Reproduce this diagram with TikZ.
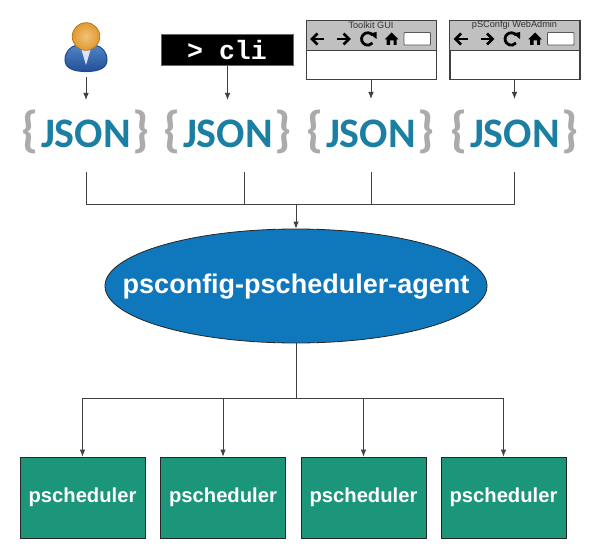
\documentclass[tikz,border=0pt]{standalone}
\usepackage{fontspec}
\setmainfont{Liberation Sans}
\newfontfamily\jsonfont{Carlito}
\newfontfamily\clifont{Liberation Mono}
\usetikzlibrary{arrows.meta,shapes.geometric}
\definecolor{jsonblue}{HTML}{1B7FA3}
\definecolor{bracegray}{HTML}{ABABAB}
\definecolor{agentblue}{HTML}{0F77BC}
\definecolor{schedgreen}{HTML}{1B967A}
\definecolor{toolbar}{HTML}{C0C0C0}
\definecolor{suitlight}{HTML}{4F86C6}
\definecolor{suitdark}{HTML}{234F96}
\definecolor{suitline}{HTML}{1F4A8C}
\definecolor{headlight}{HTML}{F0C27A}
\definecolor{headdark}{HTML}{E09A30}
\definecolor{headline}{HTML}{B57A20}
\tikzset{
  link/.style={draw=black!75,line width=0.8pt},
  flow/.style={link,-{Latex[length=7pt,width=5.5pt]}},
  sched/.style={draw=black!85,line width=0.8pt,fill=schedgreen,text=white,minimum width=125pt,minimum height=81pt,inner sep=0pt,font=\bfseries\fontsize{20.2}{24}\selectfont},
  jsonword/.style={inner sep=0pt,minimum width=88pt,minimum height=44pt,font=\jsonfont\bfseries\fontsize{42}{46}\selectfont,text=jsonblue},
  brace/.style={inner sep=0pt,font=\jsonfont\bfseries\fontsize{50}{50}\selectfont,text=bracegray},
  browser/.style={draw=black!75,line width=0.8pt,fill=white,minimum width=130pt,minimum height=59pt,inner sep=0pt},
  icon/.style={draw=black,line width=2.5pt},
}
\newcommand{\jsonitem}[2]{%
  \node[jsonword] (#1) at (#2,134) {JSON};
  \node[brace] (#1l) at (#2-55.5,132) {\{};
  \node[brace] (#1r) at (#2+55.5,132) {\}};
}
\newcommand{\browseritem}[3]{%
  \node[browser,anchor=north west] (#1) at (#2,20) {};
  \fill[toolbar] (#2+0.4,20.4) rectangle (#2+129.6,50);
  \draw[black!75,line width=0.8pt] (#2,20) rectangle (#2+130,79) (#2,50.5) -- (#2+130,50.5);
  \node[inner sep=0pt,font=\fontsize{9.2}{10}\selectfont,text=black!80] (#1t) at (#2+65,25) {#3};
  \begin{scope}[shift={(#2,0)}]
    % back
    \draw[icon] (6,39) -- (18,39);
    \draw[icon] (11.5,33.5) -- (6,39) -- (11.5,44.5);
    % forward
    \draw[icon] (31,39) -- (43,39);
    \draw[icon] (37.5,33.5) -- (43,39) -- (37.5,44.5);
    % reload
    \draw[icon,line width=2.8pt] (66.5,35) arc[start angle=-40,end angle=-320,radius=6.2];
    \fill (63.5,33.5) -- (70.5,32) -- (70.5,39) -- cycle;
    % home
    \fill (78.5,39.5) -- (85.7,32.5) -- (92.5,39.5) -- (90.5,39.5) -- (90.5,45) -- (87.5,45) -- (87.5,40.5) -- (84,40.5) -- (84,45) -- (80.5,45) -- (80.5,39.5) -- cycle;
    % address field
    \draw[draw=black!65,line width=0.8pt,fill=white,rounded corners=0.8pt] (98,32.5) rectangle (124.5,45);
  \end{scope}
}
\begin{document}
\begin{tikzpicture}[x=1pt,y=-1pt]
\useasboundingbox (0,0) rectangle (600,559);
\fill[white] (0,0) rectangle (600,559);

% user icon
\fill[black!10] (66,62) .. controls (66,76) and (106,76) .. (106,62) -- cycle;
\draw[draw=suitline,line width=1pt,top color=suitlight,bottom color=suitdark]
  (77,45) .. controls (70,46.5) and (65,52) .. (65,60) .. controls (65,68) and (73,71.5) .. (86,71.5)
  .. controls (99,71.5) and (107,68) .. (107,60) .. controls (107,52) and (102,46.5) .. (95,45) -- cycle;
\fill[white!88!blue] (81,48) -- (91,48) -- (87.5,60) -- (86,65) -- (84.5,60) -- cycle;
\shade[draw=headline,line width=0.8pt,inner color=headlight,outer color=headdark]
  (86,36.5) circle[radius=13.8];

% cli
\node[draw=black!60,line width=0.6pt,fill=black,text=white,minimum width=132pt,minimum height=30.5pt,inner sep=0pt,font=\clifont\bfseries\fontsize{26.5}{28}\selectfont] (cli) at (227,50) {> cli};

% browsers
\browseritem{gui}{306}{Toolkit GUI}
\browseritem{web}{449.5}{pSConfgi WebAdmin}

% JSON
\jsonitem{ja}{86}
\jsonitem{jb}{228}
\jsonitem{jc}{371}
\jsonitem{jd}{515}

\coordinate (ua) at (86,77);
\coordinate (ja1) at (86,100);
\coordinate (jb1) at (227.5,100);
\coordinate (jc1) at (371,99);
\coordinate (jd1) at (514.5,99);
\draw[flow] (ua) -- (ja1);
\draw[flow] (cli.south -| jb1) -- (jb1);
\draw[flow] (gui.south -| jc1) -- (jc1);
\draw[flow] (web.south -| jd1) -- (jd1);

% merge
\coordinate (ma) at (86,172);
\coordinate (mb) at (244.5,172);
\coordinate (mc) at (371.5,172);
\coordinate (md) at (514.5,172);
\coordinate (bar) at (296,204);
\node[ellipse,draw=black!85,line width=0.8pt,fill=agentblue,minimum width=382pt,minimum height=114pt,inner sep=0pt] (agent) at (296,286) {};
\node[inner sep=0pt,text=white,font=\bfseries\fontsize{27}{30}\selectfont] (agentname) at (296,287) {psconfig-pscheduler-agent};
\draw[link] (ma) -- (ma |- bar) -- (md |- bar) -- (md);
\draw[link] (mb) -- (mb |- bar);
\draw[link] (mc) -- (mc |- bar);
\draw[flow] (bar) -- (agent.north);

% schedulers
\node[sched] (s1) at (82.5,497.5) {pscheduler};
\node[sched] (s2) at (223,497.5) {pscheduler};
\node[sched] (s3) at (363.5,497.5) {pscheduler};
\node[sched] (s4) at (503.5,497.5) {pscheduler};
\coordinate (split) at (296,398);
\draw[link] (agent.south) -- (split);
\draw[link] (split -| s1) -- (split -| s4);
\draw[flow] (split -| s1) -- (s1.north);
\draw[flow] (split -| s2) -- (s2.north);
\draw[flow] (split -| s3) -- (s3.north);
\draw[flow] (split -| s4) -- (s4.north);
\end{tikzpicture}
\end{document}
